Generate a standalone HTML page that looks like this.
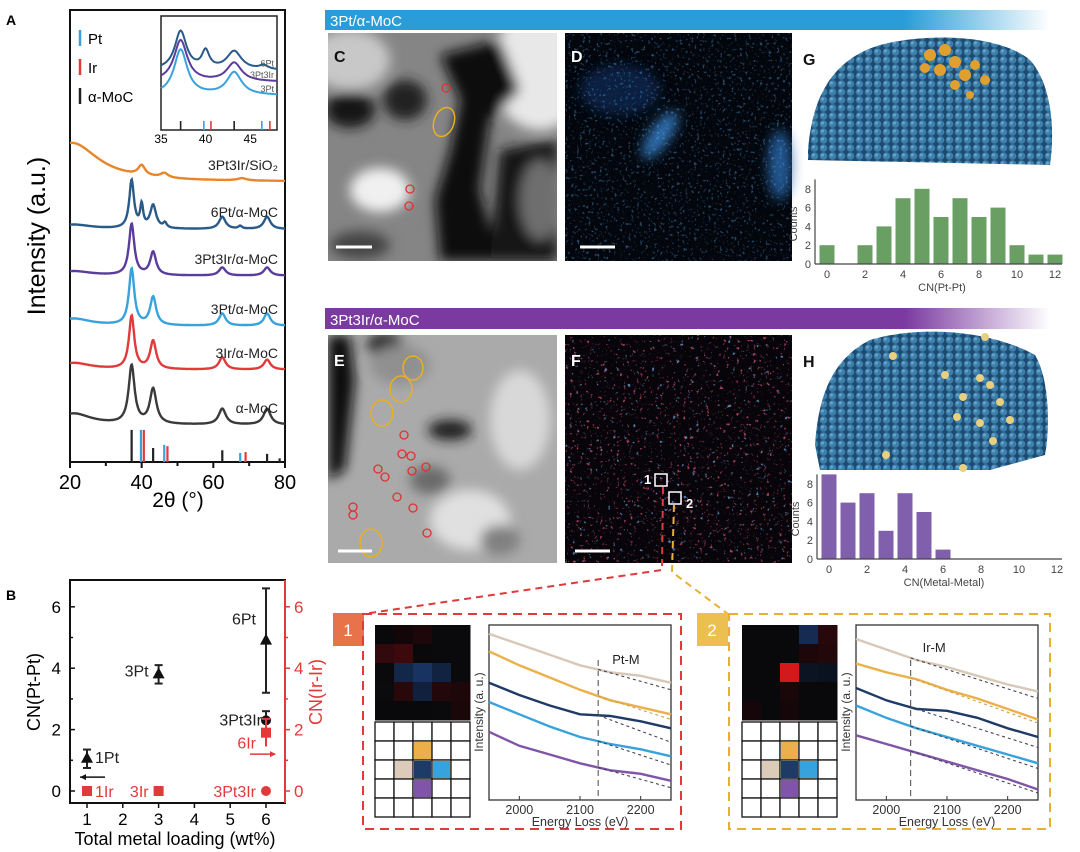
<!DOCTYPE html>
<html><head><meta charset="utf-8">
<style>
html,body{margin:0;padding:0;background:#fff;}
svg{display:block;font-family:"Liberation Sans",sans-serif;}
</style></head>
<body>
<svg id="fig" width="1080" height="852" viewBox="0 0 1080 852">
<defs>
<filter id="blur6"><feGaussianBlur stdDeviation="6"/></filter>
<filter id="blur3"><feGaussianBlur stdDeviation="3"/></filter>
<filter id="noiseBlue" x="0" y="0" width="100%" height="100%">
<feTurbulence type="fractalNoise" baseFrequency="0.35" numOctaves="2" seed="4"/>
<feColorMatrix type="matrix" values="0 0 0 0 0.1  0 0 0 0 0.45  0 0 0 0 0.95  0 0 0 6 -3.6"/>
</filter>
<filter id="noiseRed" x="0" y="0" width="100%" height="100%">
<feTurbulence type="fractalNoise" baseFrequency="0.3" numOctaves="2" seed="9"/>
<feColorMatrix type="matrix" values="0 0 0 0 0.9  0 0 0 0 0.1  0 0 0 0 0.2  0 0 0 7 -4.6"/>
</filter>
<filter id="noiseBlue2" x="0" y="0" width="100%" height="100%">
<feTurbulence type="fractalNoise" baseFrequency="0.25" numOctaves="2" seed="17"/>
<feColorMatrix type="matrix" values="0 0 0 0 0.2  0 0 0 0 0.45  0 0 0 0 0.9  0 0 0 7 -4.8"/>
</filter>
<linearGradient id="gBlue" x1="0" x2="1"><stop offset="0" stop-color="#2a9dd8"/><stop offset="0.8" stop-color="#2a9dd8"/><stop offset="1" stop-color="#fff"/></linearGradient>
<linearGradient id="gPurple" x1="0" x2="1"><stop offset="0" stop-color="#7b3aa0"/><stop offset="0.8" stop-color="#7b3aa0"/><stop offset="1" stop-color="#fff"/></linearGradient>
<pattern id="atoms" width="9" height="8" patternUnits="userSpaceOnUse"><rect width="9" height="8" fill="#1d4a70"/><circle cx="4.5" cy="4" r="3.8" fill="#3d7fab"/><circle cx="3.5" cy="3" r="1.5" fill="#6aa3c8"/></pattern>
<clipPath id="clipC"><rect x="328" y="33" width="229" height="228"/></clipPath>
<clipPath id="clipE"><rect x="328" y="335" width="229" height="228"/></clipPath>
</defs>

<rect x="325" y="10" width="725" height="20" fill="url(#gBlue)"/>
<text x="330" y="26" font-size="15" fill="#fff">3Pt/α-MoC</text>
<rect x="325" y="308" width="725" height="21" fill="url(#gPurple)"/>
<text x="330" y="325" font-size="15" fill="#fff">3Pt3Ir/α-MoC</text>

<g clip-path="url(#clipC)">
<rect x="328" y="33" width="229" height="228" fill="#858585"/>
<g filter="url(#blur6)">
<ellipse cx="540" cy="70" rx="50" ry="60" fill="#e8e8e8"/>
<ellipse cx="350" cy="60" rx="40" ry="30" fill="#c8c8c8"/>
<ellipse cx="380" cy="190" rx="30" ry="22" fill="#f0f0f0"/>
<path d="M440 55 L500 40 L520 90 L490 120 L480 190 L500 261 L440 261 L435 200 L450 150 L460 100 Z" fill="#0a0a0a"/>
<path d="M500 150 L557 140 L557 261 L490 261 Z" fill="#151515"/>
<ellipse cx="350" cy="110" rx="25" ry="18" fill="#151515"/>
<ellipse cx="360" cy="245" rx="30" ry="14" fill="#444"/>
<ellipse cx="405" cy="100" rx="22" ry="20" fill="#202020"/>
<ellipse cx="540" cy="200" rx="20" ry="40" fill="#6e6e6e"/>
</g>
<text x="334" y="62" font-size="16" font-weight="bold" fill="#111">C</text>
<ellipse cx="444" cy="122" rx="10" ry="15" transform="rotate(20 444 122)" fill="none" stroke="#e8b020" stroke-width="1.5"/>
<circle cx="446" cy="88" r="4" fill="none" stroke="#e03030" stroke-width="1.3"/>
<circle cx="410" cy="189" r="4" fill="none" stroke="#e03030" stroke-width="1.3"/>
<circle cx="409" cy="206" r="4" fill="none" stroke="#e03030" stroke-width="1.3"/>
<line x1="336" y1="247" x2="372" y2="247" stroke="#fff" stroke-width="3"/>
</g>

<g>
<rect x="565" y="33" width="227" height="228" fill="#03060c"/>
<g filter="url(#blur6)" opacity="0.8">
<ellipse cx="660" cy="135" rx="10" ry="28" transform="rotate(35 660 135)" fill="#3a8ad8"/>
<ellipse cx="780" cy="165" rx="12" ry="35" fill="#2a6ab0"/>
<ellipse cx="620" cy="90" rx="40" ry="25" fill="#0d2850"/>
</g>
<rect x="565" y="33" width="227" height="228" filter="url(#noiseBlue)" opacity="0.4"/>
<text x="571" y="62" font-size="16" font-weight="bold" fill="#fff">D</text>
<line x1="580" y1="247" x2="615" y2="247" stroke="#fff" stroke-width="3"/>
</g>

<g clip-path="url(#clipE)">
<rect x="328" y="335" width="229" height="228" fill="#aaaaaa"/>
<g filter="url(#blur6)">
<path d="M328 335 L350 335 L355 380 L345 470 L328 480 Z" fill="#0c0c0c"/>
<ellipse cx="385" cy="345" rx="18" ry="12" fill="#202020"/>
<ellipse cx="450" cy="430" rx="22" ry="10" fill="#1e1e1e"/>
<ellipse cx="430" cy="480" rx="20" ry="14" fill="#6a6a6a"/>
<ellipse cx="520" cy="420" rx="30" ry="50" fill="#d8d8d8"/>
<ellipse cx="470" cy="520" rx="40" ry="30" fill="#e0e0e0"/>
<ellipse cx="500" cy="540" rx="20" ry="15" fill="#808080"/>
<ellipse cx="400" cy="365" rx="30" ry="20" fill="#909090"/>
</g>
<text x="334" y="366" font-size="16" font-weight="bold" fill="#fff">E</text>
<g fill="none" stroke="#e8b020" stroke-width="1.5">
<ellipse cx="413" cy="368" rx="10" ry="12"/><ellipse cx="401" cy="389" rx="11" ry="13"/><ellipse cx="382" cy="413" rx="11" ry="13"/><ellipse cx="371" cy="543" rx="11" ry="14"/>
</g>
<g fill="none" stroke="#e03030" stroke-width="1.3">
<circle cx="404" cy="435" r="4"/><circle cx="402" cy="454" r="4"/><circle cx="411" cy="456" r="4"/><circle cx="378" cy="469" r="4"/><circle cx="385" cy="477" r="4"/><circle cx="412" cy="471" r="4"/><circle cx="426" cy="467" r="4"/><circle cx="397" cy="497" r="4"/><circle cx="353" cy="507" r="4"/><circle cx="353" cy="515" r="4"/><circle cx="413" cy="508" r="4"/><circle cx="427" cy="533" r="4"/>
</g>
<line x1="338" y1="551" x2="372" y2="551" stroke="#fff" stroke-width="3"/>
</g>

<g>
<rect x="565" y="335" width="227" height="228" fill="#07040a"/>
<rect x="565" y="335" width="227" height="228" filter="url(#noiseRed)" opacity="0.7"/>
<rect x="565" y="335" width="227" height="228" filter="url(#noiseBlue2)" opacity="0.7"/>
<text x="571" y="366" font-size="16" font-weight="bold" fill="#fff">F</text>
<rect x="655" y="474" width="12" height="12" fill="none" stroke="#fff" stroke-width="1.5"/>
<text x="644" y="484" font-size="13" font-weight="bold" fill="#fff">1</text>
<rect x="669" y="492" width="12" height="12" fill="none" stroke="#fff" stroke-width="1.5"/>
<text x="686" y="508" font-size="13" font-weight="bold" fill="#fff">2</text>
<line x1="575" y1="551" x2="610" y2="551" stroke="#fff" stroke-width="3"/>
</g>
<polyline points="663,487 662,570 363,614" fill="none" stroke="#e03a3a" stroke-width="2" stroke-dasharray="7,5"/>
<polyline points="674,505 672,572 728,614" fill="none" stroke="#e8b030" stroke-width="2" stroke-dasharray="7,5"/>

<g>
<path d="M808 150 C812 100 830 60 880 45 C930 32 1000 35 1030 60 C1052 85 1055 130 1050 165 L808 160 Z" fill="url(#atoms)"/>
<g fill="#e0a030"><circle cx="930" cy="55" r="6"/><circle cx="945" cy="50" r="6"/><circle cx="955" cy="62" r="6"/><circle cx="940" cy="70" r="6"/><circle cx="965" cy="75" r="6"/><circle cx="975" cy="65" r="5"/><circle cx="925" cy="68" r="5"/><circle cx="955" cy="85" r="5"/><circle cx="985" cy="80" r="5"/><circle cx="970" cy="95" r="4"/></g>
<text x="803" y="65" font-size="16" font-weight="bold" fill="#111">G</text>
</g>
<g>
<path d="M815 445 C818 400 830 360 870 340 C920 325 990 330 1035 355 C1050 380 1050 430 1045 455 L990 470 L820 470 Z" fill="url(#atoms)"/>
<g fill="#e8d080"><circle cx="985" cy="337" r="4"/><circle cx="893" cy="356" r="4"/><circle cx="945" cy="375" r="4"/><circle cx="980" cy="378" r="4"/><circle cx="990" cy="385" r="4"/><circle cx="963" cy="397" r="4"/><circle cx="1000" cy="402" r="4"/><circle cx="957" cy="417" r="4"/><circle cx="980" cy="423" r="4"/><circle cx="1010" cy="420" r="4"/><circle cx="993" cy="441" r="4"/><circle cx="886" cy="455" r="4"/><circle cx="963" cy="468" r="4"/></g>
<text x="803" y="367" font-size="16" font-weight="bold" fill="#111">H</text>
</g>

<rect x="333" y="613" width="31" height="33" fill="#e8734a"/>
<text x="348" y="636" font-size="17" fill="#fff" text-anchor="middle">1</text>
<rect x="363" y="614" width="318" height="215" fill="none" stroke="#e03a3a" stroke-width="2" stroke-dasharray="9,6"/>
<rect x="697" y="613" width="31" height="33" fill="#ecc050"/>
<text x="712" y="636" font-size="17" fill="#fff" text-anchor="middle">2</text>
<rect x="729" y="614" width="321" height="215" fill="none" stroke="#e8b030" stroke-width="2" stroke-dasharray="9,6"/>

<text x="6" y="25" font-size="14" font-weight="bold">A</text>
<text x="6" y="600" font-size="14" font-weight="bold">B</text>
<g id="dyn"></g>
</svg>
<script>
// ===== Panel A data =====
const xrdNames = ["α-MoC","3Ir/α-MoC","3Pt/α-MoC","3Pt3Ir/α-MoC","6Pt/α-MoC","3Pt3Ir/SiO₂"];
const xrdOffsets = [8.2, 20.4, 30.1, 41.2, 51.5, 62.0];
const xrdPeaksMoC = [[37.2,12.8,1.0],[43.2,7.7,1.1],[62.5,3.5,1.2],[75.0,3.5,1.2],[21,2.5,6]];
const xrdPeaks3Ir = [[37.2,11.7,0.9],[43.2,6.2,1.0],[62.5,2.7,1.1],[75.0,2.2,1.1],[21,1.5,6]];
const xrdPeaks3Pt = [[37.2,12.4,0.9],[43.2,6.2,1.0],[62.5,2.7,1.1],[75.0,2.7,1.1],[21,1.6,6]];
const xrdPeaks3Pt3Ir = [[37.2,11.3,0.9],[43.2,5.1,1.0],[62.5,1.8,1.1],[75.0,1.8,1.1],[21,1.0,6]];
const xrdPeaks6Pt = [[37.2,10.6,0.8],[40.0,4.8,0.5],[43.2,5.1,1.0],[46.5,1.1,0.6],[62.5,2.7,1.1],[67.5,0.6,0.6],[75.0,2.7,1.1],[21,1.0,6]];
const xrdPeaksSiO2 = [[20.5,8.6,9],[40.0,2.2,1.2],[46.3,1.0,1.3],[68,0.5,1.5]];
const refPos = [37.2,39.8,40.6,43.2,46.3,47.2,62.5,67.5,69.0,75.0,78.5];
const refHeight = [7.1,7.1,7.1,3.1,3.8,3.5,2.6,2.0,2.2,1.8,0.8];
const refPhase = ["MoC","Pt","Ir","MoC","Pt","Ir","MoC","Pt","Ir","MoC","MoC"];
const xTicksA = [20,40,60,80];
const insetTicks = [35,40,45];
const insetNames = ["6Pt","3Pt3Ir","3Pt"];
const insetBase = [13.0,10.5,7.5];
// ===== Panel B data =====
const ptLoad = [1,3,6,6];
const ptCN = [1.05,3.8,4.9,2.3];
const ptErr = [0.3,0.3,1.7,0.3];
const ptLabels = ["1Pt","3Pt","6Pt","3Pt3Ir"];
const irLoad = [1,3,6,6];
const irCN = [0,0,1.9,0];
const irErr = [0,0,0.45,0];
const irLabels = ["1Ir","3Ir","6Ir","3Pt3Ir"];
const bTicksY = [0,2,4,6];
const bTicksX = [1,2,3,4,5,6];
// ===== Histograms =====
const cnBinsG = [0,1,2,3,4,5,6,7,8,9,10,11,12];
const countsG = [2,0,2,4,7,8,5,7,5,6,2,1,1];
const cnBinsH = [0,1,2,3,4,5,6];
const countsH = [9,6,7,3,7,5,1];
const histTicksX = [0,2,4,6,8,10,12];
const histTicksY = [0,2,4,6,8];
// ===== EELS =====
const eelsEnergy = [1950,2000,2050,2100,2150,2200,2250];
const eels1Beige = [95,89,83,77,73,71,67];
const eels1Orange = [85,77,70,63,57,53,49];
const eels1Navy = [67,60,54,49,48,45,41];
const eels1Cyan = [56,49,42,36,32,29,25];
const eels1Purple = [39,31,26,21,17,15,11];
const eels1FitEnd = [63,46,33,20,7];
const eels1Edge = 2130;
const eels2Beige = [92,86,80,76,71,66,62];
const eels2Orange = [78,73,69,63,58,52,46];
const eels2Navy = [64,57,52,51,47,41,36];
const eels2Cyan = [54,47,41,36,31,26,21];
const eels2Purple = [37,32,27,22,17,12,6];
const eels2FitEnd = [58,44,30,18,4];
const eels2Edge = 2040;
const eelsTicks = [2000,2100,2200];
const map1 = [[5,8,20,6,8],[40,50,4,6,8],[6,60,90,50,6],[10,30,45,25,20],[4,4,4,6,15]];
const map2 = [[3,3,3,70,30],[3,3,3,20,25],[3,3,200,10,8],[3,3,15,5,4],[12,3,10,4,3]];
const map1Hue = ["k","r","r","k","k","r","r","k","k","k","k","b","b","b","k","k","r","b","r","r","k","k","k","k","r"];
const map2Hue = ["k","k","k","b","r","k","k","k","r","r","k","k","r","b","b","k","k","r","k","k","r","k","r","k","k"];
const gridCells = [[1,2,"#ebb04a"],[2,1,"#dccbb8"],[2,2,"#1e3a66"],[2,3,"#38a2dc"],[3,2,"#8055a8"]];

const NS="http://www.w3.org/2000/svg";
const root=document.getElementById("dyn");
function mk(tag,attrs,parent){const e=document.createElementNS(NS,tag);for(const k in attrs)e.setAttribute(k,attrs[k]);(parent||root).appendChild(e);return e;}
function txt(x,y,s,size,attrs,parent){const t=mk("text",Object.assign({x:x,y:y,"font-size":size},attrs||{}),parent);t.textContent=s;return t;}

// ===== Panel A =====
const A={x0:70,x1:285,y0:10,y1:462};
const axX=v=>A.x0+(v-20)/60*(A.x1-A.x0);
const axY=v=>A.y1-v*(A.y1-A.y0)/100;
const gA=mk("g",{});


const xrdPeakSets=[xrdPeaksMoC,xrdPeaks3Ir,xrdPeaks3Pt,xrdPeaks3Pt3Ir,xrdPeaks6Pt,xrdPeaksSiO2];
const xrdColors=["#3a3a3a","#e03a3a","#38a2dc","#5a3c9c","#2a5a88","#e8852a"];
function xrdVal(peaks,x){let s=0;for(const p of peaks){s+=p[1]*p[2]*p[2]/((x-p[0])*(x-p[0])+p[2]*p[2]);}return s;}
const fr=mk("rect",{x:A.x0,y:A.y0,width:A.x1-A.x0,height:A.y1-A.y0,fill:"none",stroke:"#111","stroke-width":2},gA);


xrdPeakSets.forEach((pk,i)=>{
  let d="";
  for(let x=20;x<=80.001;x+=0.15){d+=(d?"L":"M")+axX(x).toFixed(1)+" "+axY(xrdOffsets[i]+xrdVal(pk,x)).toFixed(1);}
  const p=mk("path",{d:d,fill:"none",stroke:xrdColors[i],"stroke-width":2.4},gA);
  
  
  const t=txt(278,axY(xrdOffsets[i])-12,xrdNames[i],14,{"text-anchor":"end",fill:"#222"},gA);
  
  
});
const phaseColor={MoC:"#222",Pt:"#38a2dc",Ir:"#e03a3a"};
refPos.forEach((p,i)=>{
  const l=mk("line",{x1:axX(p),x2:axX(p),y1:A.y1,y2:axY(refHeight[i]),stroke:phaseColor[refPhase[i]],"stroke-width":2.2},gA);
  
  
});
xTicksA.forEach(v=>{
  mk("line",{x1:axX(v),x2:axX(v),y1:A.y1,y2:A.y1+6,stroke:"#111","stroke-width":2},gA);
  const t=txt(axX(v),A.y1+27,String(v),20,{"text-anchor":"middle"},gA);
  
  
});
[30,50,70].forEach(v=>mk("line",{x1:axX(v),x2:axX(v),y1:A.y1,y2:A.y1+4,stroke:"#111","stroke-width":2},gA));
const xtA=txt(178,507,"2θ (°)",21,{"text-anchor":"middle"},gA);


const ytA=txt(0,0,"Intensity (a.u.)",25,{"text-anchor":"middle",transform:"translate(45,236) rotate(-90)"},gA);


[["Pt","#38a2dc",44],["Ir","#e03a3a",73],["α-MoC","#222",102]].forEach(it=>{
  mk("line",{x1:80,x2:80,y1:it[2]-14,y2:it[2]+2,stroke:it[1],"stroke-width":2.5},gA);
  const t=txt(88,it[2],it[0],15,{},gA);
  
  
});
const I={x0:161,x1:277,y0:16,y1:130};
const iX=v=>I.x0+(v-35)/13*(I.x1-I.x0);
const iY=v=>I.y1-v*(I.y1-I.y0)/25;
const gI=mk("g",{},gA);


mk("rect",{x:I.x0,y:I.y0,width:I.x1-I.x0,height:I.y1-I.y0,fill:"#fff",stroke:"#222","stroke-width":1.5},gI);
[xrdPeaks6Pt,xrdPeaks3Pt3Ir,xrdPeaks3Pt].forEach((pk,i)=>{
  let d="";
  for(let x=35;x<=48.001;x+=0.1){d+=(d?"L":"M")+iX(x).toFixed(1)+" "+iY(insetBase[i]+xrdVal(pk,x)*0.8).toFixed(1);}
  const p=mk("path",{d:d,fill:"none",stroke:[xrdColors[4],xrdColors[3],xrdColors[2]][i],"stroke-width":2},gI);
  
  
  txt(274,iY(insetBase[i])-4,insetNames[i],9,{"text-anchor":"end",fill:"#555"},gI);
});
refPos.forEach((p,i)=>{ if(p>=35&&p<=48) mk("line",{x1:iX(p),x2:iX(p),y1:I.y1,y2:I.y1-9,stroke:phaseColor[refPhase[i]],"stroke-width":1.6},gI);});
insetTicks.forEach(v=>{txt(iX(v),I.y1+13,String(v),12,{"text-anchor":"middle"},gI);});

// ===== Panel B =====
const B={x0:70,x1:285,y0:580,y1:803};
const bX=v=>87+(v-1)*35.8;
const bY=v=>791-v*30.7;
const gB=mk("g",{});


mk("rect",{x:B.x0,y:B.y0,width:B.x1-B.x0,height:B.y1-B.y0,fill:"none",stroke:"#111","stroke-width":2},gB);
mk("line",{x1:B.x1,x2:B.x1,y1:B.y0,y2:B.y1,stroke:"#e03a3a","stroke-width":2},gB);
bTicksY.forEach(v=>{
  mk("line",{x1:B.x0,x2:B.x0+5,y1:bY(v),y2:bY(v),stroke:"#111","stroke-width":1.5},gB);
  const t=txt(B.x0-9,bY(v)+6,String(v),17,{"text-anchor":"end"},gB);
  
  
  mk("line",{x1:B.x1,x2:B.x1+5,y1:bY(v),y2:bY(v),stroke:"#e03a3a","stroke-width":1.5},gB);
  const r=txt(B.x1+9,bY(v)+6,String(v),17,{fill:"#e03a3a"},gB);
  
  
});
[1,3,5].forEach(v=>{mk("line",{x1:B.x0,x2:B.x0+3,y1:bY(v),y2:bY(v),stroke:"#111","stroke-width":1.5},gB);mk("line",{x1:B.x1,x2:B.x1+3,y1:bY(v),y2:bY(v),stroke:"#e03a3a","stroke-width":1.5},gB);});
bTicksX.forEach(v=>{
  mk("line",{x1:bX(v),x2:bX(v),y1:B.y1,y2:B.y1+5,stroke:"#111","stroke-width":1.5},gB);
  const t=txt(bX(v),B.y1+22,String(v),17,{"text-anchor":"middle"},gB);
  
  
});
const bxt=txt(175,845,"Total metal loading (wt%)",18,{"text-anchor":"middle"},gB);


const byt=txt(0,0,"CN(Pt-Pt)",18,{"text-anchor":"middle",transform:"translate(40,692) rotate(-90)"},gB);


const byr=txt(0,0,"CN(Ir-Ir)",18,{"text-anchor":"middle",fill:"#e03a3a",transform:"translate(322,692) rotate(-90)"},gB);


const ptLabelPos=[[8,-2,"start"],[-10,-4,"end"],[-10,-22,"end"],[-4,-1,"end"]];
ptLoad.forEach((v,i)=>{
  const x=bX(v),y=bY(ptCN[i]);
  if(ptErr[i]>0){mk("line",{x1:x,x2:x,y1:bY(ptCN[i]-ptErr[i]),y2:bY(ptCN[i]+ptErr[i]),stroke:"#222","stroke-width":2},gB);
    mk("line",{x1:x-4,x2:x+4,y1:bY(ptCN[i]-ptErr[i]),y2:bY(ptCN[i]-ptErr[i]),stroke:"#222","stroke-width":2},gB);
    mk("line",{x1:x-4,x2:x+4,y1:bY(ptCN[i]+ptErr[i]),y2:bY(ptCN[i]+ptErr[i]),stroke:"#222","stroke-width":2},gB);}
  let m;
  if(ptLabels[i]==="3Pt3Ir") m=mk("circle",{cx:x,cy:y,r:5,fill:"#111"},gB);
  else m=mk("path",{d:`M${x} ${y-7}L${x+6} ${y+4}L${x-6} ${y+4}Z`,fill:"#111"},gB);
  
  
  const lp=ptLabelPos[i];
  txt(x+lp[0],y+lp[1]+6,ptLabels[i],16,{"text-anchor":lp[2],fill:"#222"},gB);
});
const irLabelPos=[[8,"start"],[-10,"end"],[-10,"end"],[-10,"end"]];
irLoad.forEach((v,i)=>{
  const x=bX(v),y=bY(irCN[i]);
  if(irErr[i]>0){mk("line",{x1:x,x2:x,y1:bY(irCN[i]-irErr[i]),y2:bY(irCN[i]+irErr[i]),stroke:"#e03a3a","stroke-width":2},gB);
    mk("line",{x1:x-4,x2:x+4,y1:bY(irCN[i]+irErr[i]),y2:bY(irCN[i]+irErr[i]),stroke:"#e03a3a","stroke-width":2},gB);}
  let m;
  if(irLabels[i]==="3Pt3Ir") m=mk("circle",{cx:x,cy:y,r:5,fill:"#e03a3a"},gB);
  else m=mk("rect",{x:x-5,y:y-5,width:10,height:10,fill:"#e03a3a"},gB);
  
  
  const lp=irLabelPos[i];
  const dy=irLabels[i]==="6Ir"?16:6;
  txt(x+lp[0],y+dy,irLabels[i],16,{"text-anchor":lp[1],fill:"#e03a3a"},gB);
});
mk("line",{x1:105,x2:80,y1:bY(0.45),y2:bY(0.45),stroke:"#111","stroke-width":1.5},gB);
mk("path",{d:`M80 ${bY(0.45)}l6 -3v6z`,fill:"#111"},gB);
mk("line",{x1:250,x2:275,y1:bY(1.2),y2:bY(1.2),stroke:"#e03a3a","stroke-width":1.5},gB);
mk("path",{d:`M276 ${bY(1.2)}l-6 -3v6z`,fill:"#e03a3a"},gB);

// ===== Histograms =====
function hist(name,bins,counts,x0,y0,color,title){
  const g=mk("g",{});
  
  
  const hx=v=>x0+v*19, hy=c=>y0-c*9.4;
  counts.forEach((c,i)=>{
    const r=mk("rect",{x:hx(bins[i])-7.5,y:hy(c),width:15,height:y0-hy(c),fill:color},g);
    
    
  });
  mk("line",{x1:x0-12,x2:x0-12,y1:hy(9),y2:y0,stroke:"#444","stroke-width":1.2},g);
  mk("line",{x1:x0-12,x2:1062,y1:y0,y2:y0,stroke:"#444","stroke-width":1.2},g);
  histTicksY.forEach(v=>{const t=txt(x0-16,hy(v)+4,String(v),11,{"text-anchor":"end",fill:"#444"},g);
    
    });
  histTicksX.forEach(v=>{const t=txt(hx(v),y0+14,String(v),11,{"text-anchor":"middle",fill:"#444"},g);
    
    });
  txt(0,0,"Counts",11,{"text-anchor":"middle",fill:"#444",transform:`translate(${x0-30},${y0-40}) rotate(-90)`},g);
  txt(x0+115,y0+27,title,11,{"text-anchor":"middle",fill:"#444"},g);
}
hist("histogram-g",cnBinsG,countsG,827,264,"#6a9f64","CN(Pt-Pt)");
hist("histogram-h",cnBinsH,countsH,829,559,"#8060ac","CN(Metal-Metal)");

// ===== EELS panels =====
const eelsColors=["#d8c8b8","#ebb04a","#1e3a66","#38a2dc","#8055a8"];
function eels(name,dx,series,fitEnd,edge,label,map,hues){
  const g=mk("g",{});
  
  
  map.forEach((row,r)=>row.forEach((v,c)=>{
    const h=hues[r*5+c];const a=Math.min(1,v/200);
    const col=h==="r"?`rgb(${Math.round(10+200*a)},${Math.round(5+20*a)},${Math.round(8+20*a)})`:h==="b"?`rgb(${Math.round(10+30*a)},${Math.round(15+80*a)},${Math.round(25+160*a)})`:`rgb(${Math.round(8+v/4)},${Math.round(8+v/6)},${Math.round(10+v/4)})`;
    mk("rect",{x:375+dx+c*19,y:625+r*19,width:19.5,height:19.5,fill:col},g);
  }));
  for(let r=0;r<5;r++)for(let c=0;c<5;c++) mk("rect",{x:375+dx+c*19,y:722+r*19,width:19,height:19,fill:"#fff",stroke:"#111","stroke-width":1.3},g);
  gridCells.forEach(cl=>mk("rect",{x:375+dx+cl[1]*19+1,y:722+cl[0]*19+1,width:17,height:17,fill:cl[2]},g));
  const ex=v=>489+dx+(v-1950)/300*182, ey=v=>800-v*1.75;
  mk("rect",{x:489+dx,y:625,width:182,height:175,fill:"#fff",stroke:"#333","stroke-width":1.3},g);
  mk("line",{x1:ex(edge),x2:ex(edge),y1:660,y2:800,stroke:"#666","stroke-width":1.2,"stroke-dasharray":"6,4"},g);
  series.forEach((s,i)=>{
    let d="";
    s.forEach((v,j)=>{d+=(j?"L":"M")+ex(eelsEnergy[j]).toFixed(1)+" "+ey(v).toFixed(1);});
    const p=mk("path",{d:d,fill:"none",stroke:eelsColors[i],"stroke-width":2.4},g);
    
    
    let k=0;while(k<eelsEnergy.length-2&&eelsEnergy[k+1]<edge)k++;
    const f=(edge-eelsEnergy[k])/(eelsEnergy[k+1]-eelsEnergy[k]);
    const ve=s[k]+(s[k+1]-s[k])*f;
    mk("line",{x1:ex(edge),y1:ey(ve),x2:ex(2250),y2:ey(fitEnd[i]),stroke:i===1?"#c8a050":"#445","stroke-width":1.1,"stroke-dasharray":"3,3"},g);
  });
  eelsTicks.forEach(v=>{mk("line",{x1:ex(v),x2:ex(v),y1:800,y2:796,stroke:"#333"},g);
    const t=txt(ex(v),814,String(v),12.5,{"text-anchor":"middle",fill:"#333"},g);
    
    });
  txt(ex(2100),826,"Energy Loss (eV)",12.5,{"text-anchor":"middle",fill:"#333"},g);
  txt(0,0,"Intensity (a. u.)",12,{"text-anchor":"middle",fill:"#333",transform:`translate(${483+dx},712) rotate(-90)`},g);
  txt(ex(edge)+(label==="Pt-M"?14:12),label==="Pt-M"?664:652,label,13,{fill:"#222"},g);
}
eels("eels-panel-1",0,[eels1Beige,eels1Orange,eels1Navy,eels1Cyan,eels1Purple],eels1FitEnd,eels1Edge,"Pt-M",map1,map1Hue);
eels("eels-panel-2",367,[eels2Beige,eels2Orange,eels2Navy,eels2Cyan,eels2Purple],eels2FitEnd,eels2Edge,"Ir-M",map2,map2Hue);
</script>
</body></html>
